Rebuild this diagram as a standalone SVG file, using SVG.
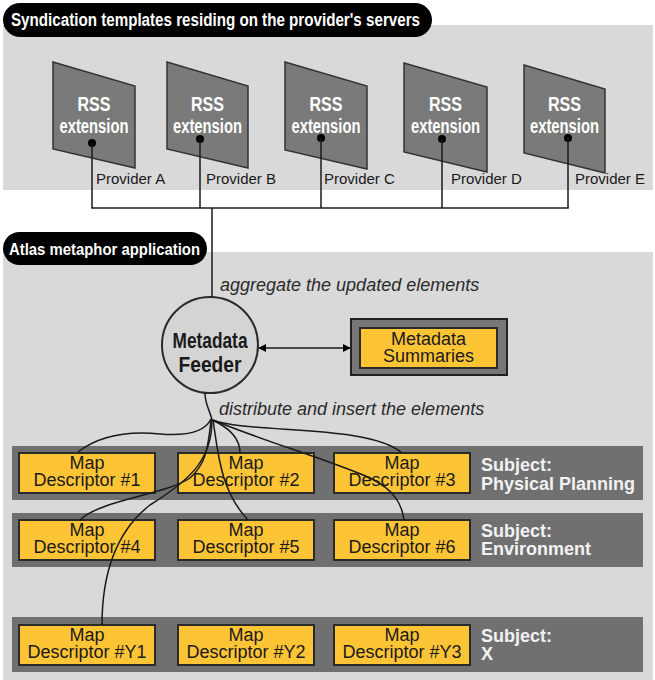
<svg xmlns="http://www.w3.org/2000/svg" width="655" height="680" viewBox="0 0 655 680">
<defs>
<style>
.panel{fill:#d9d9d9}
.pill{fill:#000}
.ttl{font-family:"Liberation Sans",Arial,sans-serif;font-weight:bold;fill:#fff}
.para{fill:#7a7a7a;stroke:#333;stroke-width:1.5}
.rss{font-family:"Liberation Sans",Arial,sans-serif;font-weight:bold;font-size:20px;fill:#fff;text-anchor:middle}
.prov{font-family:"Liberation Sans",Arial,sans-serif;font-size:15px;fill:#1a1a1a}
.ital{font-family:"Liberation Sans",Arial,sans-serif;font-style:italic;font-size:18px;fill:#2a2a2a}
.bar{fill:#707070}
.ybox{fill:#fdc436;stroke:#2a2a2a;stroke-width:2}
.ytxt{font-family:"Liberation Sans",Arial,sans-serif;font-size:18px;fill:#1a1a1a;text-anchor:middle}
.subj{font-family:"Liberation Sans",Arial,sans-serif;font-weight:bold;font-size:18px;fill:#f2f2f2}
.ln{fill:none;stroke:#1a1a1a;stroke-width:1.5}
.dot{fill:#000}
</style>
<marker id="ah" viewBox="0 0 10 10" refX="9" refY="5" markerWidth="8" markerHeight="8" markerUnits="userSpaceOnUse" orient="auto-start-reverse">
<path d="M0,0 L10,5 L0,10 z" fill="#000"/>
</marker>
</defs>

<rect width="655" height="680" fill="#fff"/>

<g id="panel-top">
<rect class="panel" x="3" y="25" width="650" height="165"/>
<rect class="pill" x="3" y="3" width="429" height="34" rx="17"/>
<text class="ttl" x="11" y="26" font-size="18" textLength="409" lengthAdjust="spacingAndGlyphs">Syndication templates residing on the provider's servers</text>
</g>

<g id="panel-bottom">
<rect class="panel" x="3" y="252" width="650" height="428"/>
<rect class="pill" x="3" y="232" width="204" height="33" rx="16.5"/>
<text class="ttl" x="9" y="255" font-size="17" textLength="191" lengthAdjust="spacingAndGlyphs">Atlas metaphor application</text>
</g>

<g id="rss-a">
<polygon class="para" points="53,62 135,86 135,168 53,149"/>
<text class="rss" x="94" y="111" textLength="33" lengthAdjust="spacingAndGlyphs">RSS</text>
<text class="rss" x="94" y="133" textLength="69" lengthAdjust="spacingAndGlyphs">extension</text>
<circle class="dot" cx="92" cy="143" r="4"/>
<text class="prov" x="96" y="184">Provider A</text>
</g>
<g id="rss-b">
<polygon class="para" points="167,62 248,86 248,168 167,149"/>
<text class="rss" x="207.5" y="111" textLength="33" lengthAdjust="spacingAndGlyphs">RSS</text>
<text class="rss" x="207.5" y="133" textLength="69" lengthAdjust="spacingAndGlyphs">extension</text>
<circle class="dot" cx="200" cy="139" r="4"/>
<text class="prov" x="206" y="184">Provider B</text>
</g>
<g id="rss-c">
<polygon class="para" points="285,62 367,86 367,169 285,150"/>
<text class="rss" x="326" y="111" textLength="33" lengthAdjust="spacingAndGlyphs">RSS</text>
<text class="rss" x="326" y="133" textLength="69" lengthAdjust="spacingAndGlyphs">extension</text>
<circle class="dot" cx="321" cy="138" r="4"/>
<text class="prov" x="324" y="184">Provider C</text>
</g>
<g id="rss-d">
<polygon class="para" points="404,63 487,87 487,172 404,152"/>
<text class="rss" x="445.5" y="111" textLength="33" lengthAdjust="spacingAndGlyphs">RSS</text>
<text class="rss" x="445.5" y="133" textLength="69" lengthAdjust="spacingAndGlyphs">extension</text>
<circle class="dot" cx="442" cy="139" r="4"/>
<text class="prov" x="451" y="184">Provider D</text>
</g>
<g id="rss-e">
<polygon class="para" points="524,65 605,89 605,173 524,153"/>
<text class="rss" x="564.5" y="111" textLength="33" lengthAdjust="spacingAndGlyphs">RSS</text>
<text class="rss" x="564.5" y="133" textLength="69" lengthAdjust="spacingAndGlyphs">extension</text>
<circle class="dot" cx="568" cy="138" r="4"/>
<text class="prov" x="575" y="184">Provider E</text>
</g>

<g id="label-aggregate">
<text class="ital" x="220" y="291">aggregate the updated elements</text>
</g>
<g id="label-distribute">
<text class="ital" x="219" y="415">distribute and insert the elements</text>
</g>

<g id="metadata-feeder">
<circle cx="210" cy="345" r="48" fill="#d4d4d4" stroke="#2a2a2a" stroke-width="2"/>
<text class="ttl" x="210" y="348" font-size="22" style="fill:#1a1a1a" text-anchor="middle" textLength="75" lengthAdjust="spacingAndGlyphs">Metadata</text>
<text class="ttl" x="210" y="372" font-size="22" style="fill:#1a1a1a" text-anchor="middle" textLength="63" lengthAdjust="spacingAndGlyphs">Feeder</text>
</g>

<g id="metadata-summaries">
<rect x="351" y="319" width="156" height="56" fill="#777" stroke="#222" stroke-width="2"/>
<rect class="ybox" x="360" y="328" width="137" height="40"/>
<text class="ytxt" x="428.5" y="345">Metadata</text>
<text class="ytxt" x="428.5" y="362">Summaries</text>
</g>

<g id="row-physical-planning">
<rect class="bar" x="12" y="446" width="631" height="54"/>
<text class="subj" x="481" y="471">Subject:</text>
<text class="subj" x="481" y="490">Physical Planning</text>
</g>
<g id="row-environment">
<rect class="bar" x="12" y="513" width="631" height="54"/>
<text class="subj" x="481" y="537">Subject:</text>
<text class="subj" x="481" y="555">Environment</text>
</g>
<g id="row-x">
<rect class="bar" x="12" y="617" width="631" height="55"/>
<text class="subj" x="481" y="642">Subject:</text>
<text class="subj" x="481" y="660">X</text>
</g>

<g id="map-1"><rect class="ybox" x="19" y="453" width="136" height="40"/><text class="ytxt" x="87" y="469">Map</text><text class="ytxt" x="87" y="486">Descriptor #1</text></g>
<g id="map-2"><rect class="ybox" x="178" y="453" width="136" height="40"/><text class="ytxt" x="246" y="469">Map</text><text class="ytxt" x="246" y="486">Descriptor #2</text></g>
<g id="map-3"><rect class="ybox" x="334" y="453" width="136" height="40"/><text class="ytxt" x="402" y="469">Map</text><text class="ytxt" x="402" y="486">Descriptor #3</text></g>
<g id="map-4"><rect class="ybox" x="19" y="520" width="136" height="40"/><text class="ytxt" x="87" y="536">Map</text><text class="ytxt" x="87" y="553">Descriptor #4</text></g>
<g id="map-5"><rect class="ybox" x="178" y="520" width="136" height="40"/><text class="ytxt" x="246" y="536">Map</text><text class="ytxt" x="246" y="553">Descriptor #5</text></g>
<g id="map-6"><rect class="ybox" x="334" y="520" width="136" height="40"/><text class="ytxt" x="402" y="536">Map</text><text class="ytxt" x="402" y="553">Descriptor #6</text></g>
<g id="map-y1"><rect class="ybox" x="19" y="625" width="136" height="40"/><text class="ytxt" x="87" y="641">Map</text><text class="ytxt" x="87" y="658">Descriptor #Y1</text></g>
<g id="map-y2"><rect class="ybox" x="178" y="625" width="136" height="40"/><text class="ytxt" x="246" y="641">Map</text><text class="ytxt" x="246" y="658">Descriptor #Y2</text></g>
<g id="map-y3"><rect class="ybox" x="334" y="625" width="136" height="40"/><text class="ytxt" x="402" y="641">Map</text><text class="ytxt" x="402" y="658">Descriptor #Y3</text></g>

<g id="connectors">
<line class="ln" x1="92" y1="143" x2="92" y2="208"/>
<line class="ln" x1="200" y1="139" x2="200" y2="208"/>
<line class="ln" x1="321" y1="138" x2="321" y2="208"/>
<line class="ln" x1="442" y1="139" x2="442" y2="208"/>
<line class="ln" x1="568" y1="138" x2="568" y2="208"/>
<line class="ln" x1="91.25" y1="208" x2="568.75" y2="208"/>
<line class="ln" x1="212" y1="208" x2="212" y2="297"/>
<line class="ln" x1="259" y1="348" x2="350" y2="348" marker-start="url(#ah)" marker-end="url(#ah)"/>
<path class="ln" d="M205,393 C205,405 210,410 212,420"/>
<path class="ln" d="M211,419 C205,432 185,436 160,434 C130,431 100,435 78,452"/>
<path class="ln" d="M212,420 C230,428 240,438 240,453"/>
<path class="ln" d="M212,420 C250,434 370,424 402,453"/>
<path class="ln" d="M211,420 C208,450 205,465 190,478 C165,495 100,500 80,520"/>
<path class="ln" d="M212,420 C212,460 190,480 150,505 C118,530 102,570 102,625"/>
<path class="ln" d="M213,420 C218,452 220,490 248,520"/>
<path class="ln" d="M213,420 C260,440 330,460 370,478 C395,490 402,505 404,520"/>
</g>
</svg>
